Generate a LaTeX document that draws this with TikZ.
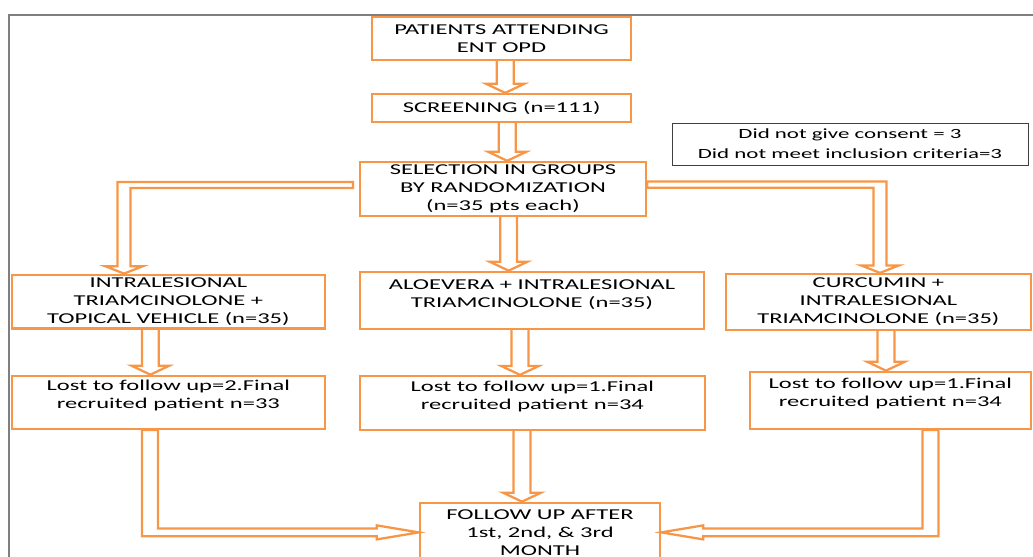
\documentclass[tikz,border=0pt]{standalone}
\usepackage{fontspec}
\setmainfont[FakeStretch=1.63]{Carlito}
\usepackage{xcolor}
\usepackage{tikz}
\usetikzlibrary{calc,positioning}
\definecolor{figOrange}{HTML}{F79646}
\definecolor{figGray}{HTML}{7F7F7F}
\definecolor{figDark}{HTML}{404040}

\begin{document}
\begin{tikzpicture}[
  every node/.style={font=\fontsize{10.7}{12.9}\selectfont, text=black},
  stage/.style={
    draw=figOrange, line width=1.6pt, align=center, inner sep=2pt,
  },
  note/.style={
    draw=figDark, line width=0.6pt, align=center,
    font=\fontsize{10}{14.2}\selectfont,
  },
  downarrow/.style={draw=figOrange, line width=1.6pt, to path={
    let \p1=(\tikztostart), \p2=(\tikztotarget) in
    (\x1-6pt,\y1) -- (\x1-6pt,\y2+6.4pt) -- (\x1-13.5pt,\y2+6.4pt) -- (\x1,\y2)
    -- (\x1+13.5pt,\y2+6.4pt) -- (\x1+6pt,\y2+6.4pt) -- (\x1+6pt,\y1)}},
  hvdown/.style={draw=figOrange, line width=1.6pt, to path={
    let \p1=(\tikztostart), \p2=(\tikztotarget) in
    (\x1,\y1+2.2pt) -- ({\x2+#1*4.6pt},\y1+2.2pt) -- ({\x2+#1*4.6pt},\y2+5.3pt)
    -- ({\x2+#1*13.5pt},\y2+5.3pt) -- (\x2,\y2) -- ({\x2-#1*13.5pt},\y2+5.3pt)
    -- ({\x2-#1*4.6pt},\y2+5.3pt) -- ({\x2-#1*4.6pt},\y1-2.2pt) -- (\x1,\y1-2.2pt) -- cycle}},
  vhside/.style={draw=figOrange, line width=1.6pt, to path={
    let \p1=(\tikztostart), \p2=(\tikztotarget) in
    ({\x1-#1*5.7pt},\y1) -- ({\x1-#1*5.7pt},\y2-2.8pt) -- ({\x2-#1*30pt},\y2-2.8pt)
    -- ({\x2-#1*30pt},\y2-5pt) -- (\x2,\y2) -- ({\x2-#1*30pt},\y2+5pt)
    -- ({\x2-#1*30pt},\y2+2.8pt) -- ({\x1+#1*5.7pt},\y2+2.8pt) -- ({\x1+#1*5.7pt},\y1) -- cycle}},
]
\useasboundingbox (0,0) rectangle (25.825,-13.925);
\clip (0,0) rectangle (25.825,-13.925);

% === Frame ===
\draw[figGray, line width=1.5pt] (0.225,-0.375) rectangle (26.5,-14.5);

% === Enrolment ===
\node[stage, minimum width=6.48cm, minimum height=1.08cm] (pat) at (12.54, -0.96)
  {PATIENTS ATTENDING\\ENT OPD};
\node[stage, minimum width=6.48cm, minimum height=0.70cm] (scr) at (12.54, -2.70)
  {SCREENING (n=111)};
\node[stage, minimum width=7.15cm, minimum height=1.35cm] (sel) at (12.575, -4.725)
  {SELECTION IN GROUPS\\BY RANDOMIZATION\\(n=35 pts each)};
\node[note, minimum width=8.9cm, minimum height=1.05cm] (cons) at (21.25, -3.6)
  {Did not give consent = 3\\Did not meet inclusion criteria=3};

% === Groups ===
\node[stage, minimum width=7.83cm, minimum height=1.33cm] (grpA) at (4.21, -7.54)
  {INTRALESIONAL\\TRIAMCINOLONE +\\TOPICAL VEHICLE (n=35)};
\node[stage, minimum width=8.6cm, minimum height=1.43cm, text depth=10pt] (grpB) at (13.3, -7.51)
  {ALOEVERA + INTRALESIONAL\\TRIAMCINOLONE (n=35)};
\node[stage, minimum width=7.63cm, minimum height=1.4cm] (grpC) at (21.96, -7.55)
  {CURCUMIN +\\INTRALESIONAL\\TRIAMCINOLONE (n=35)};

% === Final recruitment ===
\node[stage, minimum width=7.83cm, minimum height=1.33cm, text depth=11pt] (lostA) at (4.21, -10.06)
  {Lost to follow up=2.Final\\recruited patient n=33};
\node[stage, minimum width=8.63cm, minimum height=1.35cm, text depth=11pt] (lostB) at (13.31, -10.075)
  {Lost to follow up=1.Final\\recruited patient n=34};
\node[stage, minimum width=7.03cm, minimum height=1.43cm, text depth=12pt] (lostC) at (22.26, -10.01)
  {Lost to follow up=1.Final\\recruited patient n=34};

% === Follow up ===
\node[stage, minimum width=6.0cm, minimum height=1.48cm] (fol) at (13.5, -13.31)
  {FOLLOW UP AFTER\\1st, 2nd, \& 3rd\\MONTH};

% === Arrow ends ===
\coordinate (patOut) at ([xshift=0.09cm]pat.south);
\coordinate (scrOut) at ([xshift=0.14cm]scr.south);
\coordinate (selOut) at ([xshift=0.14cm]sel.south);
\coordinate (selLeft) at ([xshift=-0.15cm, yshift=0.1cm]sel.west);
\coordinate (selRight) at ([yshift=0.11cm]sel.east);
\coordinate (grpAin) at ([xshift=-1.11cm]grpA.north);
\coordinate (grpCin) at ([xshift=0.04cm]grpC.north);
\coordinate (grpAout) at ([xshift=-0.45cm]grpA.south);
\coordinate (grpBout) at ([xshift=-0.3cm]grpB.south);
\coordinate (grpCout) at ([xshift=0.19cm]grpC.south);
\coordinate (lostAout) at ([xshift=-0.46cm]lostA.south);
\coordinate (lostBout) at ([xshift=-0.26cm]lostB.south);
\coordinate (lostCout) at ([xshift=1.0cm]lostC.south);

% === Arrows ===
\draw[downarrow] (patOut) to (scr.north);
\draw[downarrow] (scrOut) to (sel.north);
\draw[downarrow] (selOut) to (grpB.north);
\draw[hvdown=-1] (selLeft) to (grpAin);
\draw[hvdown=1] (selRight) to (grpCin);
\draw[downarrow] (grpAout) to (lostA.north);
\draw[downarrow] (grpBout) to (lostB.north);
\draw[downarrow] (grpCout) to (lostC.north);
\draw[vhside=1] (lostAout) to (fol.west);
\draw[downarrow] (lostBout) to (fol.north);
\draw[vhside=-1] (lostCout) to (fol.east);

\end{tikzpicture}
\end{document}
